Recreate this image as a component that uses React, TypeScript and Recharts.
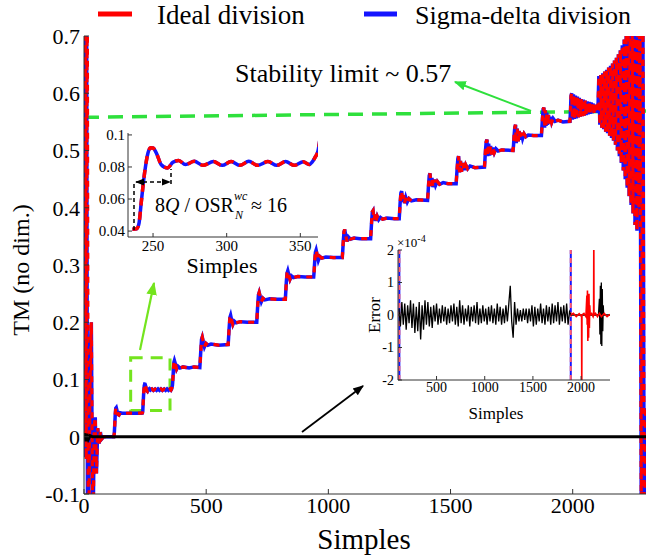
import React from "react";
import { LineChart, Line, XAxis, YAxis, ReferenceLine, ReferenceArea } from "recharts";

const FONT = '"Liberation Serif", "Times New Roman", serif';
const RED = "#ff0000";
const BLUE = "#1414ff";
const GREEN = "#2ee03c";
const LIME = "#74e41e";
const AXIS = "#333";

// ticks
const mainXTicks = [0, 500, 1000, 1500, 2000];
const mainYTicks = [-0.1, 0, 0.1, 0.2, 0.3, 0.4, 0.5, 0.6, 0.7];
const zoomXTicks = [250, 300, 350];
const zoomYTicks = [0.04, 0.06, 0.08, 0.1];
const errXTicks = [500, 1000, 1500, 2000];
const errYTicks = [-2, -1, 0, 1, 2];

// TM start-up transient (sample, value)
const idealStart: [number, number][] = [
  [0, 0], [5, 0.95], [9, -0.04], [13, 0.9], [18, -0.3], [24, 0.08], [30, 0.2], [36, -0.2],
  [42, 0.02], [46, 0.034], [51, -0.064], [56, 0.015], [62, -0.012], [67, 0.008], [72, -0.004],
];
const sigmaDeltaStart: [number, number][] = [
  [0, -0.03], [3, 0.95], [6, -0.036], [10, 0.9], [15, -0.3], [22, 0.1], [30, 0.2], [36, -0.2],
  [42, 0.02], [46, 0.034], [51, -0.064], [56, 0.015], [62, -0.012], [67, 0.008], [72, -0.004],
];

// TM staircase after start-up (sample, value)
const stairs: [number, number][] = [
  [80, 0], [122, 0],
  [124, 0.006], [126, 0.022], [128, 0.04], [130, 0.05], [132, 0.051], [135, 0.046], [139, 0.039], [143, 0.038], [148, 0.042], [156, 0.041], [236, 0.0412],
  [239, 0.0415], [240.5, 0.045], [242, 0.058], [244.3, 0.0765], [246.6, 0.0889], [248.4, 0.092], [250, 0.0918], [252.2, 0.0888], [255.6, 0.0814], [259.7, 0.0794], [263.5, 0.0829], [267.4, 0.0841],
  [272, 0.0815], [278, 0.0835], [284, 0.081], [291, 0.0834], [297, 0.081], [303, 0.0834], [309, 0.081], [315, 0.0835], [321, 0.081], [328, 0.0834], [334, 0.081], [340, 0.0834], [346, 0.081], [352, 0.0833], [356, 0.0815],
  [358, 0.083], [360, 0.086], [362, 0.09], [364, 0.102], [366, 0.118], [368, 0.13], [370, 0.133], [374, 0.127], [379, 0.118], [385, 0.123], [393, 0.12], [405, 0.122], [430, 0.12], [450, 0.122], [474, 0.121],
  [476, 0.135], [478, 0.15], [481, 0.17], [484, 0.174], [488, 0.166], [493, 0.157], [499, 0.163], [507, 0.16], [520, 0.162], [550, 0.16], [590, 0.161],
  [592, 0.175], [594, 0.19], [597, 0.208], [600, 0.212], [604, 0.204], [609, 0.196], [615, 0.202], [623, 0.199], [640, 0.201], [670, 0.2], [707, 0.2],
  [709, 0.215], [711, 0.23], [714, 0.248], [717, 0.252], [721, 0.245], [726, 0.236], [732, 0.242], [740, 0.239], [760, 0.241], [790, 0.24], [824, 0.24],
  [826, 0.255], [828, 0.27], [831, 0.286], [834, 0.29], [838, 0.283], [843, 0.275], [849, 0.281], [857, 0.278], [875, 0.28], [905, 0.279], [940, 0.279],
  [942, 0.29], [944, 0.305], [947, 0.322], [950, 0.326], [954, 0.318], [959, 0.308], [965, 0.315], [973, 0.312], [990, 0.314], [1020, 0.313], [1057, 0.313],
  [1059, 0.325], [1061, 0.34], [1064, 0.358], [1067, 0.362], [1071, 0.352], [1076, 0.341], [1082, 0.349], [1090, 0.345], [1105, 0.347], [1130, 0.346], [1173, 0.346],
  [1175, 0.36], [1177, 0.375], [1180, 0.393], [1183, 0.395], [1187, 0.378], [1191, 0.388], [1195, 0.377], [1200, 0.385], [1206, 0.379], [1213, 0.383], [1222, 0.38], [1240, 0.382], [1270, 0.381], [1290, 0.381],
  [1292, 0.395], [1294, 0.41], [1297, 0.426], [1300, 0.429], [1304, 0.41], [1308, 0.422], [1312, 0.408], [1317, 0.418], [1323, 0.41], [1330, 0.416], [1340, 0.412], [1360, 0.414], [1406, 0.413],
  [1408, 0.425], [1410, 0.44], [1413, 0.456], [1416, 0.46], [1420, 0.438], [1424, 0.452], [1428, 0.436], [1433, 0.449], [1439, 0.439], [1446, 0.446], [1455, 0.441], [1470, 0.444], [1490, 0.442], [1523, 0.442],
  [1525, 0.455], [1527, 0.468], [1530, 0.486], [1533, 0.49], [1537, 0.462], [1541, 0.482], [1545, 0.463], [1550, 0.478], [1556, 0.466], [1562, 0.475], [1570, 0.468], [1580, 0.473], [1600, 0.47], [1639, 0.471],
  [1641, 0.485], [1643, 0.5], [1646, 0.515], [1649, 0.519], [1652, 0.49], [1656, 0.512], [1660, 0.491], [1664, 0.508], [1668, 0.493], [1673, 0.505], [1679, 0.496], [1686, 0.503], [1695, 0.499], [1710, 0.501], [1756, 0.5],
  [1758, 0.51], [1760, 0.525], [1763, 0.54], [1766, 0.545], [1769, 0.513], [1773, 0.538], [1777, 0.516], [1781, 0.534], [1785, 0.519], [1790, 0.531], [1795, 0.521], [1801, 0.529], [1808, 0.524], [1818, 0.527], [1840, 0.526], [1872, 0.526],
  [1874, 0.54], [1876, 0.555], [1879, 0.572], [1882, 0.575], [1885, 0.54], [1888, 0.57], [1891, 0.543], [1894, 0.566], [1897, 0.545], [1901, 0.562], [1905, 0.547], [1909, 0.559], [1914, 0.549], [1920, 0.556], [1928, 0.551], [1940, 0.553], [1960, 0.55], [1989, 0.551],
  [1991, 0.57], [1993, 0.595], [1996, 0.6], [1999, 0.554], [2003, 0.598], [2007, 0.555], [2011, 0.596], [2015, 0.556], [2019, 0.594], [2023, 0.558], [2027, 0.592], [2031, 0.559], [2035, 0.59], [2039, 0.56],
  [2043, 0.589], [2047, 0.561], [2051, 0.587], [2055, 0.562], [2059, 0.586], [2063, 0.563], [2067, 0.585], [2071, 0.564], [2075, 0.584], [2079, 0.565], [2083, 0.582], [2087, 0.566], [2091, 0.58], [2095, 0.567], [2099, 0.578], [2103, 0.566],
  [2107, 0.63], [2111, 0.545], [2115, 0.632], [2119, 0.54], [2123, 0.635], [2127, 0.537], [2131, 0.638], [2135, 0.533], [2139, 0.641], [2143, 0.53], [2147, 0.645], [2151, 0.526], [2155, 0.648], [2159, 0.522],
  [2163, 0.652], [2167, 0.517], [2171, 0.657], [2175, 0.51], [2179, 0.662], [2183, 0.5], [2187, 0.668], [2191, 0.49], [2195, 0.675], [2199, 0.478], [2203, 0.684], [2207, 0.465], [2211, 0.694], [2215, 0.45],
  [2219, 0.705], [2223, 0.435], [2227, 0.718], [2231, 0.42], [2235, 0.73], [2239, 0.405], [2243, 0.745], [2247, 0.39], [2251, 0.76], [2255, 0.37], [2259, 0.77], [2263, 0.36],
  [2267, 0.8], [2271, 0.4], [2275, 0.85], [2281, -0.2], [2287, 0.8], [2293, -0.25], [2298, 0.05],
];

// error drawn on the main axes (close to zero)
const mainError: [number, number][] = [
  [0, 0], [4, 0.006], [8, -0.008], [12, 0.005], [18, -0.004], [25, 0.002], [35, 0], [2300, 0],
];

// inset error, x1e-4: noise every 15 samples from 110 to 1880
const ERR_T0 = 110;
const ERR_DT = 15;
const errorNoise = [
  0.2, -0.35, 0.4, -0.3, 0.35, -0.45, 0.3, -0.25, 0.45, -0.4,
  0.35, -0.55, 0.25, -0.5, 0.4, -0.75, 0.3, -0.45, 0.45, -0.3,
  0.4, -0.35, 0.25, -0.4, 0.3, -0.2, 0.35, -0.3, 0.2, -0.25,
  0.3, -0.2, 0.25, -0.3, 0.2, -0.25, 0.3, -0.2, 0.35, -0.3,
  0.25, -0.35, 0.45, -0.25, 0.3, -0.3, 0.2, -0.2, 0.3, -0.35,
  0.25, -0.2, 0.3, -0.25, 0.4, -0.3, 0.2, -0.25, 0.3, -0.2,
  0.2, -0.3, 0.25, -0.2, 0.3, -0.25, 0.2, -0.3, 0.35, -0.2,
  0.25, -0.3, 0.2, -0.25, 0.3, -0.2, 0.35, 0.9, -0.2, -0.7,
  0.4, -0.3, 0.2, -0.2, 0.15, -0.2, 0.2, -0.15, 0.2, -0.25,
  0.2, -0.2, 0.3, -0.35, 0.25, -0.3, 0.2, -0.2, 0.35, -0.25,
  0.2, -0.3, 0.3, -0.2, 0.25, -0.3, 0.35, -0.25, 0.3, -0.2,
  0.4, -0.3, 0.25, -0.2, 0.3, -0.25, 0.35, -0.3, 0.1,
];
const errorTail: [number, number][] = [
  [1895, 0], [2180, 0], [2190, 0.5], [2195, -0.6], [2200, 0.9], [2205, -0.9], [2210, 1.0],
  [2215, -0.95], [2220, 0.8], [2225, -0.5], [2230, 0.3], [2235, 0], [2300, 0],
];
const idealError: [number, number][] = [
  [1893, 0], [1920, 0.05], [1950, -0.05], [1980, 0.04], [2000, -0.03], [2005, 0], [2007, -2.5], [2009, 0],
  [2030, 0.05], [2050, -0.05], [2060, 0.6], [2063, -0.3], [2066, 0.75], [2070, -0.8], [2074, 0.5],
  [2078, -0.7], [2082, 0.65], [2086, -0.4], [2090, 0.3], [2095, 0], [2110, 0.05], [2125, -0.05],
  [2130, 0], [2132, 2.5], [2134, 0], [2150, 0.05], [2170, -0.05], [2190, 0.05], [2210, -0.05],
  [2240, 0.05], [2270, -0.05], [2300, 0.02],
];
const errorJumps = [114, 1893];

const stabilityLimit: [number, number][] = [[0, 0.558], [2300, 0.569]];
const zoomBox = { x1: 191, x2: 352, y1: 0.046, y2: 0.138 };

const rows = (pts: [number, number][]) => pts.map(([s, v]) => ({ s, v }));
const idealRows = rows([...idealStart, ...stairs]);
const sdRows = rows([...sigmaDeltaStart, ...stairs]);
const mainErrRows = rows(mainError);
const zoomRows = rows(stairs.filter(([s]) => s >= 225 && s <= 372));
const errRows = [
  ...errorNoise.map((v, i) => ({ s: ERR_T0 + i * ERR_DT, v })),
  ...rows(errorTail),
];
const idealErrRows = rows(idealError);

const tickFont = (size: number) => ({ fill: "#000", fontSize: size, fontFamily: FONT });
const blank = () => "";

export default function App() {
  return (
    <div style={{ position: "absolute", left: 0, top: 0, width: 662, height: 556, background: "#fff", fontFamily: FONT }}>
      <LineChart width={662} height={556} margin={{ top: 36, right: 16, bottom: 0, left: 0 }}>
        <XAxis type="number" dataKey="s" domain={[0, 2300]} ticks={mainXTicks} interval={0} height={62}
          tickSize={-5} tickMargin={8} tick={tickFont(22)} stroke={AXIS} allowDataOverflow />
        <XAxis xAxisId="t" orientation="top" type="number" dataKey="s" domain={[0, 2300]} ticks={mainXTicks}
          interval={0} height={0} tickSize={-5} tickFormatter={blank} stroke={AXIS} />
        <YAxis type="number" domain={[-0.1, 0.7]} ticks={mainYTicks} interval={0} width={84}
          tickSize={-5} tickMargin={9} tick={tickFont(22)} stroke={AXIS} allowDataOverflow />
        <YAxis yAxisId="r" orientation="right" type="number" domain={[-0.1, 0.7]} ticks={mainYTicks}
          interval={0} width={0} tickSize={-5} tickFormatter={blank} stroke={AXIS} />
        <ReferenceArea x1={zoomBox.x1} x2={zoomBox.x2} y1={zoomBox.y1} y2={zoomBox.y2}
          fill="none" fillOpacity={0} stroke={LIME} strokeWidth={3} strokeDasharray="12 8" />
        <ReferenceLine segment={stabilityLimit.map(([x, y]) => ({ x, y }))}
          stroke={GREEN} strokeWidth={3.5} strokeDasharray="15 9" />
        <Line data={sdRows} dataKey="v" type="linear" stroke={BLUE} strokeWidth={3.5} dot={false} activeDot={false} isAnimationActive={false} />
        <Line data={idealRows} dataKey="v" type="linear" stroke={RED} strokeWidth={3.2} strokeDasharray="6 6" dot={false} activeDot={false} isAnimationActive={false} />
        <Line data={mainErrRows} dataKey="v" type="linear" stroke="#000" strokeWidth={3} dot={false} activeDot={false} isAnimationActive={false} />
      </LineChart>

      <div style={{ position: "absolute", left: 88, top: 123 }}>
        <LineChart width={235} height={144} margin={{ top: 10, right: 5, bottom: 0, left: 0 }}>
          <XAxis type="number" dataKey="s" domain={[233, 362]} ticks={zoomXTicks} interval={0} height={30}
            tickSize={-4} tickMargin={7} tick={tickFont(15)} stroke={AXIS} allowDataOverflow />
          <XAxis xAxisId="t" orientation="top" type="number" dataKey="s" domain={[233, 362]} ticks={zoomXTicks}
            interval={0} height={0} tickSize={-4} tickFormatter={blank} stroke={AXIS} />
          <YAxis type="number" domain={[0.0363, 0.1012]} ticks={zoomYTicks} interval={0} width={40}
            tickSize={-4} tickMargin={7} tick={tickFont(15)} stroke={AXIS} allowDataOverflow />
          <YAxis yAxisId="r" orientation="right" type="number" domain={[0.0363, 0.1012]} ticks={zoomYTicks}
            interval={0} width={0} tickSize={-4} tickFormatter={blank} stroke={AXIS} />
          <Line data={zoomRows} dataKey="v" type="monotone" stroke={BLUE} strokeWidth={3.5} dot={false} activeDot={false} isAnimationActive={false} />
          <Line data={zoomRows} dataKey="v" type="monotone" stroke={RED} strokeWidth={3.5} strokeDasharray="8 6" dot={false} activeDot={false} isAnimationActive={false} />
        </LineChart>
      </div>

      <div style={{ position: "absolute", left: 358, top: 240 }}>
        <LineChart width={255} height={160} margin={{ top: 10, right: 3, bottom: 0, left: 0 }}>
          <XAxis type="number" dataKey="s" domain={[100, 2300]} ticks={errXTicks} interval={0} height={20}
            tickSize={-4} tickMargin={6} tick={tickFont(14)} stroke={AXIS} allowDataOverflow />
          <XAxis xAxisId="t" orientation="top" type="number" dataKey="s" domain={[100, 2300]} ticks={errXTicks}
            interval={0} height={0} tickSize={-4} tickFormatter={blank} stroke={AXIS} />
          <YAxis type="number" domain={[-2, 2]} ticks={errYTicks} interval={0} width={40}
            tickSize={-4} tickMargin={8} tick={tickFont(14)} stroke={AXIS} allowDataOverflow />
          <YAxis yAxisId="r" orientation="right" type="number" domain={[-2, 2]} ticks={errYTicks}
            interval={0} width={0} tickSize={-4} tickFormatter={blank} stroke={AXIS} />
          {errorJumps.map((x) => (
            <ReferenceLine key={`b${x}`} x={x} stroke={BLUE} strokeWidth={2} />
          ))}
          {errorJumps.map((x) => (
            <ReferenceLine key={`r${x}`} x={x} stroke="#ff5a6e" strokeWidth={2} strokeDasharray="5 4" />
          ))}
          <Line data={errRows} dataKey="v" type="linear" stroke="#000" strokeWidth={1.3} dot={false} activeDot={false} isAnimationActive={false} />
          <Line data={idealErrRows} dataKey="v" type="linear" stroke={RED} strokeWidth={1.6} dot={false} activeDot={false} isAnimationActive={false} />
        </LineChart>
      </div>

      <svg width={662} height={556} style={{ position: "absolute", left: 0, top: 0, pointerEvents: "none" }} fontFamily={FONT}>
        <defs>
          <marker id="hg" viewBox="0 0 10 10" refX="9" refY="5" markerWidth="6" markerHeight="6" orient="auto">
            <path d="M0,1 L10,5 L0,9 z" fill={GREEN} />
          </marker>
          <marker id="hl" viewBox="0 0 10 10" refX="9" refY="5" markerWidth="6" markerHeight="6" orient="auto">
            <path d="M0,1 L10,5 L0,9 z" fill={LIME} />
          </marker>
          <marker id="hk" viewBox="0 0 10 10" refX="9" refY="5" markerWidth="6" markerHeight="6" orient="auto">
            <path d="M0,1 L10,5 L0,9 z" fill="#000" />
          </marker>
          <marker id="hk2" viewBox="0 0 10 10" refX="9" refY="5" markerWidth="6" markerHeight="6" orient="auto-start-reverse">
            <path d="M0,1 L10,5 L0,9 z" fill="#000" />
          </marker>
        </defs>

        <line x1={98} y1={14} x2={132} y2={14} stroke={RED} strokeWidth={5} />
        <text x={157} y={24} fontSize={27}>Ideal division</text>
        <line x1={364} y1={14} x2={397} y2={14} stroke={BLUE} strokeWidth={5} />
        <text x={415} y={24} fontSize={26}>Sigma-delta division</text>

        <text transform="translate(29,270) rotate(-90)" textAnchor="middle" fontSize={24}>TM (no dim.)</text>
        <text x={364} y={549} textAnchor="middle" fontSize={29}>Simples</text>

        <text x={235} y={82} fontSize={26}>Stability limit ~ 0.57</text>
        <line x1={531} y1={111} x2={455} y2={82} stroke={GREEN} strokeWidth={2} markerEnd="url(#hg)" />

        <line x1={140} y1={350} x2={154} y2={283} stroke={LIME} strokeWidth={2.2} markerEnd="url(#hl)" />
        <line x1={302} y1={432} x2={363} y2={386} stroke="#000" strokeWidth={1.8} markerEnd="url(#hk)" />

        <line x1={134} y1={230} x2={134} y2={182} stroke="#000" strokeWidth={1.5} strokeDasharray="4 3" />
        <line x1={136} y1={182} x2={170} y2={182} stroke="#000" strokeWidth={1.5} strokeDasharray="4 3" markerStart="url(#hk2)" markerEnd="url(#hk2)" />
        <line x1={171} y1={184} x2={171} y2={169} stroke="#000" strokeWidth={1.5} strokeDasharray="4 3" />
        <text x={155} y={212} fontSize={20}>8<tspan fontStyle="italic">Q</tspan> / OSR</text>
        <text x={234} y={200} fontSize={12} fontStyle="italic">wc</text>
        <text x={235} y={219} fontSize={12} fontStyle="italic">N</text>
        <text x={251} y={212} fontSize={20}>≈ 16</text>
        <text x={222} y={273} textAnchor="middle" fontSize={22}>Simples</text>

        <text x={397} y={247} fontSize={13}>×10<tspan dy={-5} fontSize={10}>-4</tspan></text>
        <text transform="translate(380,315) rotate(-90)" textAnchor="middle" fontSize={17}>Error</text>
        <text x={496} y={419} textAnchor="middle" fontSize={17}>Simples</text>
      </svg>
    </div>
  );
}
